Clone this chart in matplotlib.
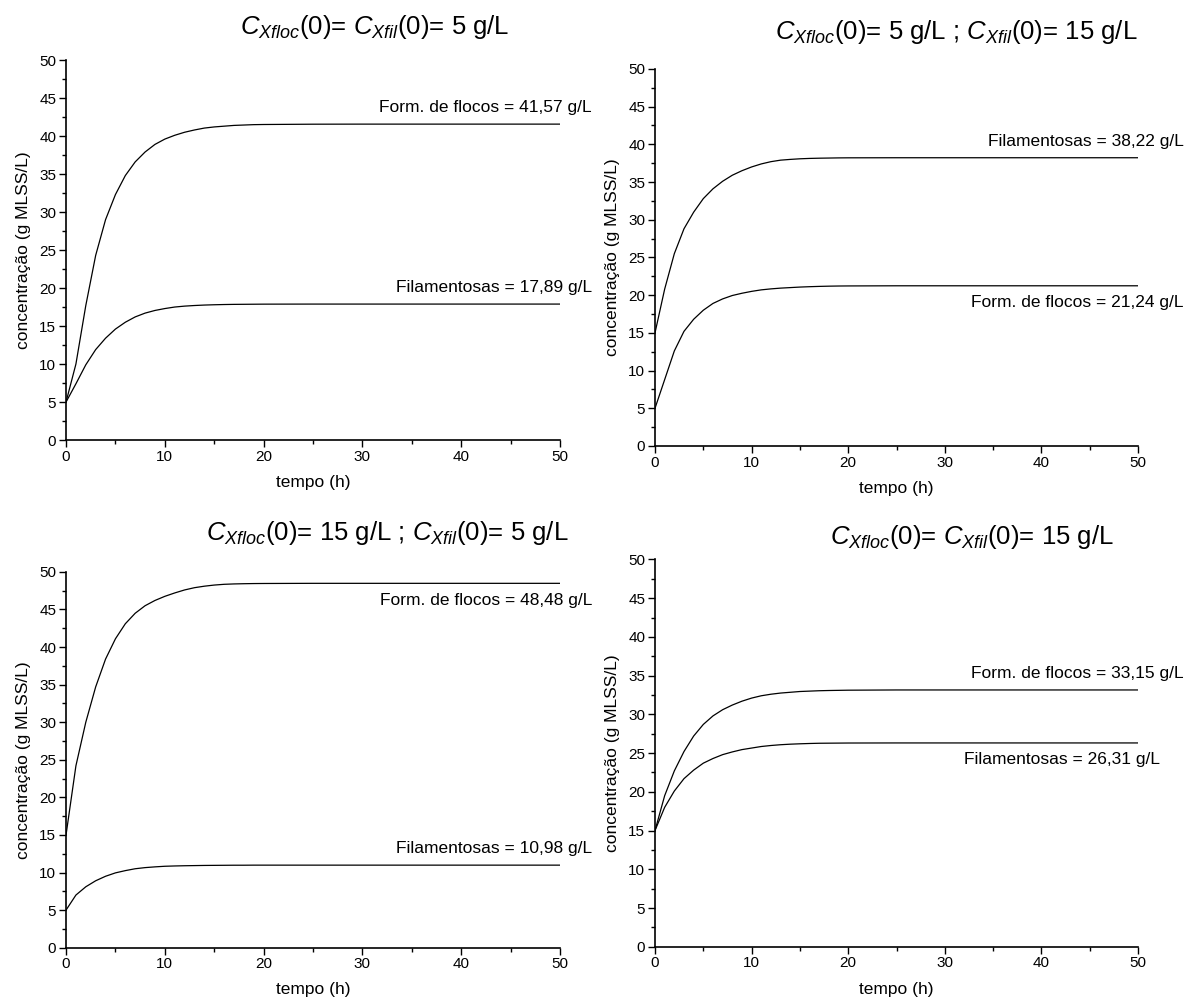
import matplotlib
matplotlib.use("Agg")
import matplotlib.pyplot as plt
from matplotlib.ticker import MultipleLocator

plt.rcParams['font.family'] = ['Liberation Sans', 'DejaVu Sans']
plt.rcParams['mathtext.fontset'] = 'custom'
plt.rcParams['mathtext.rm'] = 'Liberation Sans'
plt.rcParams['mathtext.it'] = 'Liberation Sans:italic'
plt.rcParams['mathtext.bf'] = 'Liberation Sans:bold'

# time grid (h)
tempo = [0, 1, 2, 3, 4, 5, 6, 7, 8, 9, 10, 11, 12, 13, 14, 15, 16, 17, 18, 19, 20,
         25, 30, 35, 40, 45, 50]

# case 1: Xfloc(0) = Xfil(0) = 5 g/L
floc_1 = [5, 10.0, 17.7, 24.3, 29.0, 32.3, 34.8, 36.6, 37.9, 38.9, 39.6, 40.1, 40.5,
          40.8, 41.05, 41.2, 41.3, 41.4, 41.45, 41.5, 41.52, 41.56, 41.57, 41.57,
          41.57, 41.57, 41.57]
fil_1 = [5, 7.4, 9.9, 11.9, 13.4, 14.6, 15.5, 16.2, 16.7, 17.05, 17.3, 17.5, 17.62,
         17.7, 17.76, 17.8, 17.83, 17.85, 17.86, 17.87, 17.88, 17.89, 17.89, 17.89,
         17.89, 17.89, 17.89]

# case 2: Xfloc(0) = 5 g/L ; Xfil(0) = 15 g/L
floc_2 = [5, 8.8, 12.6, 15.2, 16.8, 18.0, 18.9, 19.5, 19.95, 20.25, 20.5, 20.7, 20.83,
          20.93, 21.0, 21.07, 21.12, 21.16, 21.19, 21.21, 21.22, 21.24, 21.24, 21.24,
          21.24, 21.24, 21.24]
fil_2 = [15, 20.8, 25.5, 28.8, 31.0, 32.8, 34.1, 35.1, 35.9, 36.5, 37.0, 37.4, 37.7,
         37.9, 38.0, 38.08, 38.13, 38.16, 38.18, 38.2, 38.21, 38.22, 38.22, 38.22,
         38.22, 38.22, 38.22]

# case 3: Xfloc(0) = 15 g/L ; Xfil(0) = 5 g/L
floc_3 = [15, 24.2, 30.0, 34.7, 38.4, 41.1, 43.1, 44.5, 45.5, 46.2, 46.75, 47.2, 47.6,
          47.9, 48.1, 48.25, 48.35, 48.4, 48.43, 48.45, 48.46, 48.48, 48.48, 48.48,
          48.48, 48.48, 48.48]
fil_3 = [5, 7.0, 8.1, 8.9, 9.5, 9.95, 10.25, 10.5, 10.65, 10.75, 10.83, 10.87, 10.9,
         10.92, 10.94, 10.95, 10.96, 10.97, 10.97, 10.98, 10.98, 10.98, 10.98, 10.98,
         10.98, 10.98, 10.98]

# case 4: Xfloc(0) = Xfil(0) = 15 g/L
floc_4 = [15, 19.5, 22.7, 25.2, 27.2, 28.7, 29.8, 30.6, 31.2, 31.7, 32.1, 32.4, 32.6,
          32.75, 32.85, 32.95, 33.0, 33.05, 33.08, 33.1, 33.12, 33.15, 33.15, 33.15,
          33.15, 33.15, 33.15]
fil_4 = [15, 18.0, 20.1, 21.7, 22.8, 23.7, 24.3, 24.8, 25.15, 25.45, 25.65, 25.85, 25.98,
         26.08, 26.15, 26.2, 26.24, 26.27, 26.28, 26.29, 26.3, 26.31, 26.31, 26.31,
         26.31, 26.31, 26.31]

titles = [r"$C_{Xfloc}$(0)= $C_{Xfil}$(0)= 5 g/L",
          r"$C_{Xfloc}$(0)= 5 g/L ; $C_{Xfil}$(0)= 15 g/L",
          r"$C_{Xfloc}$(0)= 15 g/L ; $C_{Xfil}$(0)= 5 g/L",
          r"$C_{Xfloc}$(0)= $C_{Xfil}$(0)= 15 g/L"]

fig = plt.figure(figsize=(11.92, 10.06), dpi=100)

axes_rects = [[0.0554, 0.5626, 0.4144, 0.3777],
              [0.5495, 0.5567, 0.4052, 0.3748],
              [0.0554, 0.0580, 0.4144, 0.3735],
              [0.5495, 0.0589, 0.4052, 0.3850]]

title_pos = [(0.314, 0.973), (0.802, 0.968), (0.325, 0.470), (0.815, 0.466)]

cases = [(floc_1, fil_1), (floc_2, fil_2), (floc_3, fil_3), (floc_4, fil_4)]


def fmt(v):
    return f"{v:.2f}".replace(".", ",")


# (label text, series, x offset pts, y offset pts)
label_specs = [
    [("Form. de flocos", floc_1, 23, 12), ("Filamentosas", fil_1, 23, 12)],
    [("Filamentosas", fil_2, 33, 12), ("Form. de flocos", floc_2, 33, -12)],
    [("Form. de flocos", floc_3, 23, -12), ("Filamentosas", fil_3, 23, 12)],
    [("Form. de flocos", floc_4, 33, 12), ("Filamentosas", fil_4, 16, -12)],
]

for i in range(4):
    ax = fig.add_axes(axes_rects[i])
    floc, fil = cases[i]
    ax.plot(tempo, floc, color='black', lw=0.9)
    ax.plot(tempo, fil, color='black', lw=0.9)
    ax.set_xlim(0, 50)
    ax.set_ylim(0, 50)
    ax.spines['top'].set_visible(False)
    ax.spines['right'].set_visible(False)
    for s in ('left', 'bottom'):
        ax.spines[s].set_linewidth(1.2)
    ax.xaxis.set_major_locator(MultipleLocator(10))
    ax.xaxis.set_minor_locator(MultipleLocator(5))
    ax.yaxis.set_major_locator(MultipleLocator(5))
    ax.yaxis.set_minor_locator(MultipleLocator(2.5))
    ax.tick_params(which='major', direction='out', length=5, width=1, labelsize=11, pad=2)
    ax.tick_params(which='minor', direction='out', length=3, width=1)
    ax.set_xlabel("tempo (h)", fontsize=12.5, labelpad=8)
    ax.set_ylabel("concentração (g MLSS/L)", fontsize=12.5, labelpad=6)
    for name, series, dx, dy in label_specs[i]:
        val = series[-1]
        ax.annotate(f"{name} = {fmt(val)} g/L", xy=(50, val), xytext=(dx, dy),
                    textcoords='offset points', ha='right', va='center',
                    fontsize=12.5, annotation_clip=False)
    fig.text(title_pos[i][0], title_pos[i][1], titles[i], ha='center', va='center',
             fontsize=18.5)

fig.savefig("out.png", dpi=100)
